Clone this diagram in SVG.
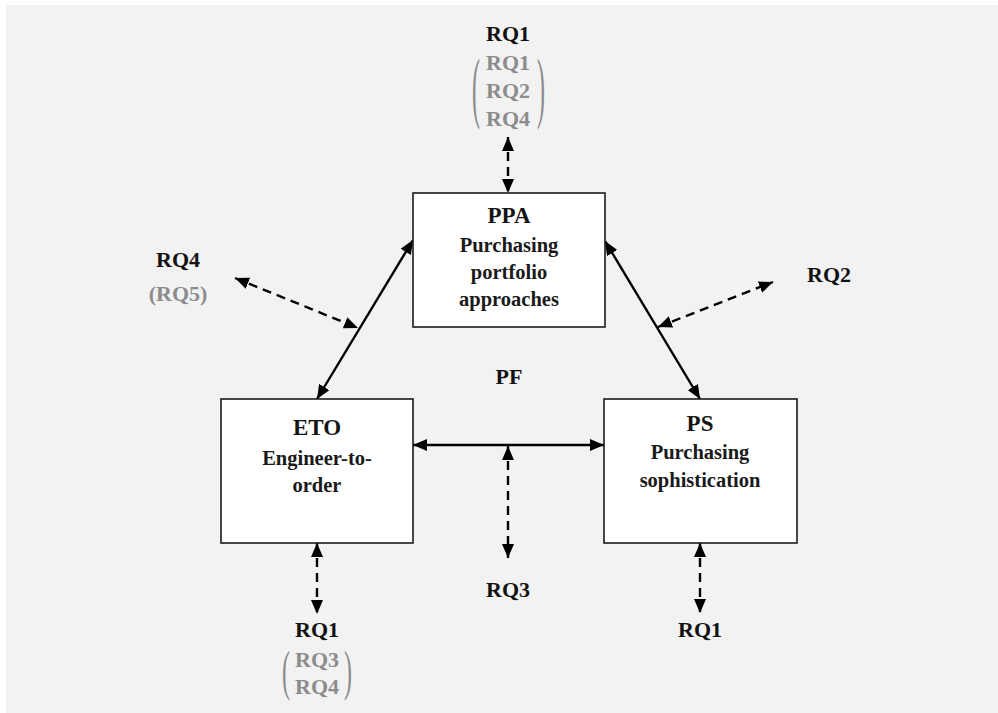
<svg xmlns="http://www.w3.org/2000/svg" width="998" height="713" viewBox="0 0 998 713">
  <style>
    .box { fill: #ffffff; stroke: #1a1a1a; stroke-width: 1.6; }
    .title { font-family: "Liberation Serif", "Times New Roman", serif; font-weight: bold; font-size: 23px; fill: #141414; text-anchor: middle; }
    .sub { font-family: "Liberation Serif", "Times New Roman", serif; font-weight: bold; font-size: 20.5px; fill: #1a1a1a; text-anchor: middle; }
    .rq { font-family: "Liberation Serif", "Times New Roman", serif; font-weight: bold; font-size: 22px; fill: #111111; text-anchor: middle; }
    .rqg { font-family: "Liberation Serif", "Times New Roman", serif; font-weight: bold; font-size: 22px; fill: #8c8c8c; text-anchor: middle; }
    .paren { font-family: "Liberation Serif", "Times New Roman", serif; font-weight: normal; font-size: 24px; fill: #8c8c8c; text-anchor: middle; }
    .solid { stroke: #000000; stroke-width: 2.4; fill: none; marker-start: url(#head); marker-end: url(#head); }
    .dash { stroke: #000000; stroke-width: 2.4; fill: none; stroke-dasharray: 9 6; marker-start: url(#head); marker-end: url(#head); }
  </style>
  <defs>
    <marker id="head" viewBox="0 0 14 12" refX="14" refY="6" markerWidth="14" markerHeight="12" markerUnits="userSpaceOnUse" orient="auto-start-reverse">
      <path d="M0,0 L14,6 L0,12 z" fill="#000000"/>
    </marker>
  </defs>

  <!-- page background -->
  <rect x="0" y="0" width="998" height="713" fill="#ffffff"/>
  <rect x="6" y="5" width="992" height="708" fill="#f2f2f2"/>

  <!-- connectors -->
  <g id="connectors">
    <line class="solid" x1="317" y1="399" x2="413" y2="240"/>
    <line class="solid" x1="605" y1="241" x2="700" y2="399"/>
    <line class="solid" x1="413" y1="445" x2="604" y2="445"/>
    <line class="dash" x1="508" y1="137" x2="508" y2="193"/>
    <line class="dash" x1="508" y1="446" x2="508" y2="558"/>
    <line class="dash" x1="317" y1="543" x2="317" y2="614"/>
    <line class="dash" x1="700" y1="543" x2="700" y2="613"/>
    <line class="dash" x1="235" y1="278" x2="358" y2="328"/>
    <line class="dash" x1="658" y1="327" x2="773" y2="282"/>
  </g>

  <!-- nodes -->
  <g id="ppa">
    <rect class="box" x="413" y="193" width="192" height="134"/>
    <text class="title" x="509" y="223">PPA</text>
    <text class="sub" x="509" y="252">Purchasing</text>
    <text class="sub" x="509" y="279">portfolio</text>
    <text class="sub" x="509" y="306">approaches</text>
  </g>

  <g id="eto">
    <rect class="box" x="221" y="399" width="192" height="144"/>
    <text class="title" x="317" y="435">ETO</text>
    <text class="sub" x="317" y="465">Engineer-to-</text>
    <text class="sub" x="317" y="492">order</text>
  </g>

  <g id="ps">
    <rect class="box" x="604" y="399" width="193" height="144"/>
    <text class="title" x="700" y="431">PS</text>
    <text class="sub" x="700" y="459">Purchasing</text>
    <text class="sub" x="700" y="487">sophistication</text>
  </g>

  <g id="pf">
    <text class="rq" x="509" y="384">PF</text>
  </g>

  <!-- research question labels -->
  <g id="rq-top">
    <text class="rq" x="508" y="41">RQ1</text>
    <text class="rqg" x="508" y="70">RQ1</text>
    <text class="rqg" x="508" y="98">RQ2</text>
    <text class="rqg" x="508" y="126">RQ4</text>
    <text class="paren" transform="translate(476,113) scale(1,3.3)" x="0" y="0">(</text>
    <text class="paren" transform="translate(541,113) scale(1,3.3)" x="0" y="0">)</text>
  </g>

  <g id="rq-left">
    <text class="rq" x="178" y="267">RQ4</text>
    <text class="rqg" x="178" y="301">(RQ5)</text>
  </g>

  <g id="rq-right">
    <text class="rq" x="829" y="282">RQ2</text>
  </g>

  <g id="rq-center">
    <text class="rq" x="508" y="597">RQ3</text>
  </g>

  <g id="rq-eto">
    <text class="rq" x="317" y="637">RQ1</text>
    <text class="rqg" x="317" y="667">RQ3</text>
    <text class="rqg" x="317" y="694">RQ4</text>
    <text class="paren" transform="translate(286,689) scale(1,2.3)" x="0" y="0">(</text>
    <text class="paren" transform="translate(348,689) scale(1,2.3)" x="0" y="0">)</text>
  </g>

  <g id="rq-ps">
    <text class="rq" x="700" y="637">RQ1</text>
  </g>
</svg>
